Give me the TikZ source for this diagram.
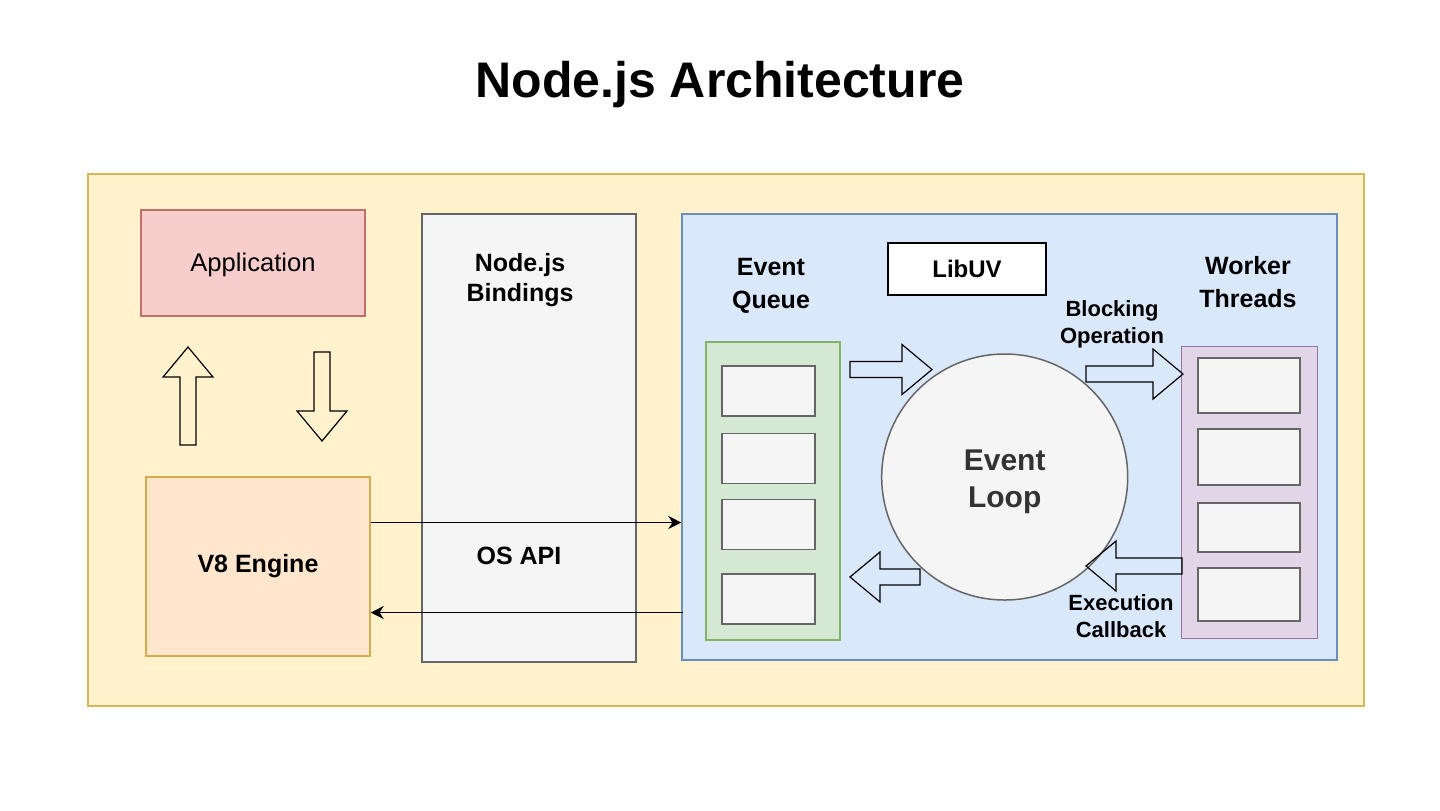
\documentclass[tikz,border=0pt]{standalone}
\usepackage{fontspec}
\setmainfont{Liberation Sans}
\usetikzlibrary{arrows.meta}

\definecolor{yellowbg}{HTML}{FFF2CC}
\definecolor{yellowline}{HTML}{D6B656}
\definecolor{redbg}{HTML}{F8CECC}
\definecolor{redline}{HTML}{C46E6A}
\definecolor{orangebg}{HTML}{FFE6CC}
\definecolor{orangeline}{HTML}{D8AA50}
\definecolor{graybg}{HTML}{F5F5F5}
\definecolor{grayline}{HTML}{666666}
\definecolor{bluebg}{HTML}{DAE8FC}
\definecolor{blueline}{HTML}{6C8EBF}
\definecolor{greenbg}{HTML}{D5E8D4}
\definecolor{greenline}{HTML}{82B366}
\definecolor{purplebg}{HTML}{E1D5E7}
\definecolor{purpleline}{HTML}{9673A6}
\definecolor{looptext}{HTML}{333333}

\tikzset{
  box/.style={draw, line width=0.75pt, inner sep=0pt},
  slot/.style={box, draw=grayline, fill=graybg, minimum width=46.5pt},
  heading/.style={font=\bfseries\fontsize{25}{30}\selectfont},
  lbl/.style={font=\bfseries\fontsize{12.5}{16.5}\selectfont, align=center},
  small/.style={font=\bfseries\fontsize{11}{13.5}\selectfont, align=center},
  flow/.style={-{Stealth[length=6.5pt,width=6.5pt]}, line width=0.6pt},
  fatarrow/.pic={
    \draw[line width=0.6pt] (0,-8) -- (#1-30,-8) -- (#1-30,-25) -- (#1,0)
      -- (#1-30,25) -- (#1-30,8) -- (0,8) -- cycle;
  }
}

\begin{document}
\begin{tikzpicture}[x=0.5pt, y=-0.5pt]
  \useasboundingbox (0,0) rectangle (1440,810);
  \node[heading, anchor=base] (title) at (720,97) {Node.js Architecture};

  % outer runtime box
  \node[box, draw=yellowline, fill=yellowbg, minimum width=638pt, minimum height=266pt] (runtime) at (726,440) {};

  % left column
  \node[box, draw=redline, fill=redbg, minimum width=112pt, minimum height=53pt,
        text height=11.5pt, text depth=2.7pt,
        font=\fontsize{12.8}{16}\selectfont] (app) at (253,263) {Application};
  \node[box, draw=orangeline, fill=orangebg, minimum width=112pt, minimum height=89.5pt,
        lbl] (v8) at (258,566.5) {V8 Engine};
  \pic at (188,445) [rotate=90] {fatarrow=98};
  \pic at (322,352) [rotate=-90] {fatarrow=89};

  % bindings
  \node[box, draw=grayline, fill=graybg, minimum width=107pt, minimum height=224pt] (bind) at (529,438) {};
  \node[lbl, font=\bfseries\fontsize{12.5}{15}\selectfont] (bindtxt) at (520,280) {Node.js\\Bindings};
  \node[lbl] (osapi) at (519,556) {OS API};

  % libuv
  \node[box, draw=blueline, fill=bluebg, minimum width=327.5pt, minimum height=223pt] (uv) at (1009.5,437) {};
  \node[box, draw=black, fill=white, minimum width=79pt, minimum height=26pt,
        font=\bfseries\fontsize{12}{14}\selectfont] (uvname) at (967,269) {LibUV};
  \node[lbl] (eqtxt) at (771,286) {Event\\Queue};
  \node[lbl] (wttxt) at (1248,282) {Worker\\Threads};

  \node[box, draw=greenline, fill=greenbg, minimum width=67pt, minimum height=149pt] (queue) at (773,491) {};
  \foreach \y [count=\i] in {391,458.5,524.5,599}
    \node[slot, minimum height=25pt] (q\i) at (768.5,\y) {};

  \node[box, draw=purpleline, fill=purplebg, minimum width=68pt, minimum height=146pt] (workers) at (1249.6,492.5) {};
  \foreach \y/\h [count=\i] in {385.5/27.5, 457/28, 527.5/24.5, 594.5/26.5}
    \node[slot, minimum width=51pt, minimum height=\h pt] (w\i) at (1249,\y) {};

  \node[circle, draw=grayline, fill=graybg, line width=0.75pt, minimum size=123pt] (loop) at (1004.7,477) {};
  \node[text=looptext, font=\bfseries\fontsize{15}{18.5}\selectfont, align=center] (looptxt) at (1004.7,481.5) {Event\\Loop};

  \pic at (850,369.5) {fatarrow=82};
  \pic at (1086,374) {fatarrow=97};
  \pic at (920,577) [rotate=180] {fatarrow=70};
  \pic at (1182,566) [rotate=180] {fatarrow=96};
  \node[small] (blocking) at (1112,324.5) {Blocking\\Operation};
  \node[small] (callback) at (1121,616.5) {Execution\\Callback};

  % connectors
  \draw[flow] ([yshift=22pt]v8.east) -- ([yshift=22pt]v8.east -| uv.west);
  \draw[flow] ([yshift=-23pt,xshift=1pt]v8.east -| uv.west) -- ([yshift=-23pt]v8.east);
\end{tikzpicture}
\end{document}
